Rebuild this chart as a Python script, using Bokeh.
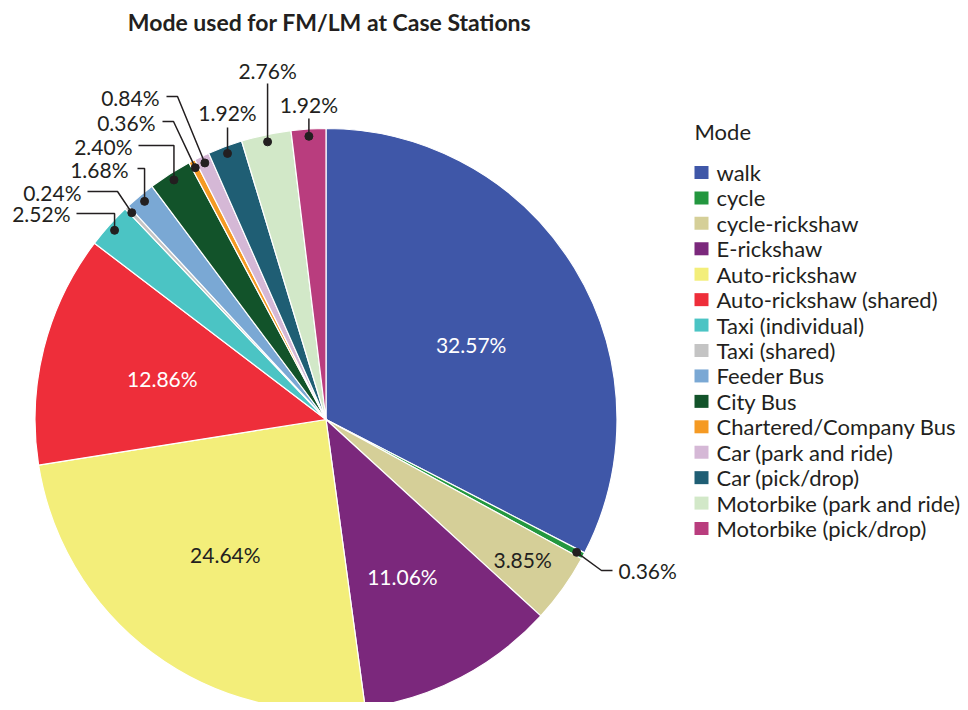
import math
from bokeh.plotting import figure
from bokeh.models import Range1d, ColumnDataSource
from bokeh.core.properties import value
from bokeh.embed import file_html
from bokeh.resources import INLINE

# ---------------- data ----------------
modes = ["walk", "cycle", "cycle-rickshaw", "E-rickshaw", "Auto-rickshaw",
         "Auto-rickshaw (shared)", "Taxi (individual)", "Taxi (shared)",
         "Feeder Bus", "City Bus", "Chartered/Company Bus", "Car (park and ride)",
         "Car (pick/drop)", "Motorbike (park and ride)", "Motorbike (pick/drop)"]
shares = [32.57, 0.36, 3.85, 11.06, 24.64, 12.86, 2.52, 0.24, 1.68, 2.40,
          0.36, 0.84, 1.92, 2.76, 1.92]
colors = ["#3F57A8", "#23973F", "#D5CF98", "#7B287C", "#F3EE7A", "#EE2E3A",
          "#4BC4C4", "#C4C4C4", "#7AA8D4", "#12532A", "#F59A23", "#D5B8D6",
          "#1F5E74", "#D2E8C8", "#B93D7E"]
title_text = "Mode used for FM/LM at Case Stations"
legend_title = "Mode"

# ---------------- layout (pixel coordinates of the 968x710 page) ----------------
FONT = "Lato"
CX, CY, R = 325.5, 419.0, 291.0
# inside labels: radius fraction, pixel nudge, text colour
inside = {
    "walk": (0.56, (6, 10), "white"),
    "cycle-rickshaw": (0.83, (0, 0), "#231F20"),
    "E-rickshaw": (0.61, (-6, 0), "white"),
    "Auto-rickshaw": (0.58, (0, 0), "#231F20"),
    "Auto-rickshaw (shared)": (0.58, (0, 0), "white"),
}
# callouts: elbow (x or None -> same as dot), line end x (None -> vertical), text anchor, align
callouts = {
    "cycle": ((601, 570), 612, (618, 570), "left"),
    "Taxi (individual)": ((None, 213), 76, (70, 213), "right"),
    "Taxi (shared)": ((117, 191), 87, (81, 192), "right"),
    "Feeder Bus": ((None, 168), 137, (128, 169), "right"),
    "City Bus": ((None, 145), 138, (132, 146), "right"),
    "Chartered/Company Bus": ((173, 121), 162, (155, 122), "right"),
    "Car (park and ride)": ((177, 96), 166, (159, 97), "right"),
    "Car (pick/drop)": ((None, 127), None, (None, 112), "center"),
    "Motorbike (park and ride)": ((None, 83), None, (None, 70), "center"),
    "Motorbike (pick/drop)": ((None, 118), None, (None, 104), "center"),
}

W, H = 960, 702
p = figure(width=W, height=H, output_backend="svg", toolbar_location=None,
           x_range=Range1d(0, W), y_range=Range1d(-H, 0),
           min_border=0, outline_line_color=None)
p.axis.visible = False
p.grid.visible = False
p.background_fill_color = "white"
p.border_fill_color = "white"

def Y(img_y):
    return -img_y

total = sum(shares)
starts, ends, mids = [], [], []
cum = 0.0
for s in shares:
    a0 = math.pi / 2 - 2 * math.pi * cum / total
    cum += s
    a1 = math.pi / 2 - 2 * math.pi * cum / total
    starts.append(a0)
    ends.append(a1)
    mids.append((a0 + a1) / 2)

src = ColumnDataSource(dict(start=starts, end=ends, color=colors, mode=modes))
p.wedge(x=CX, y=Y(CY), radius=R, start_angle="start", end_angle="end",
        direction="clock", fill_color="color", line_color="white",
        line_width=1.2, source=src)

def fmt(v):
    return f"{v:.2f}%"

# inside labels
for m, s, a in zip(modes, shares, mids):
    if m in inside:
        frac, (dx, dy), col = inside[m]
        x = CX + frac * R * math.cos(a) + dx
        y = Y(CY) + frac * R * math.sin(a) - dy
        p.text(x=[x], y=[y], text=[fmt(s)], text_align="center",
               text_baseline="middle", text_font=value(FONT),
               text_font_size="21px", text_color=col)

# callouts
dot_x, dot_y = [], []
for m, s, a in zip(modes, shares, mids):
    if m not in callouts:
        continue
    (ex, ey), endx, (tx, ty), align = callouts[m]
    dx_ = CX + 0.975 * R * math.cos(a)
    dy_ = Y(CY) + 0.975 * R * math.sin(a)
    dot_x.append(dx_)
    dot_y.append(dy_)
    ex = dx_ if ex is None else ex
    xs = [dx_, ex]
    ys = [dy_, Y(ey)]
    if endx is not None:
        xs.append(endx)
        ys.append(Y(ey))
    p.line(xs, ys, line_color="#231F20", line_width=1.5)
    tx = ex if tx is None else tx
    p.text(x=[tx], y=[Y(ty)], text=[fmt(s)], text_align=align,
           text_baseline="middle", text_font=value(FONT),
           text_font_size="21px", text_color="#231F20")
p.scatter(dot_x, dot_y, size=8, color="#231F20")

# title
p.text(x=[329], y=[Y(21)], text=[title_text], text_align="center",
       text_baseline="middle", text_font=value(FONT), text_font_style="bold",
       text_font_size="23px", text_color="#231F20")

# legend
LX, LY0, LDY, SQ = 694, 172, 25.43, 14
p.text(x=[LX], y=[Y(131)], text=[legend_title], text_align="left",
       text_baseline="middle", text_font=value(FONT), text_font_size="22px",
       text_color="#231F20")
lx = [LX + SQ / 2] * len(modes)
ly = [Y(LY0 + i * LDY) for i in range(len(modes))]
p.rect(x=lx, y=ly, width=SQ, height=SQ - 1, fill_color=colors, line_color=None)
p.text(x=[LX + 22] * len(modes), y=ly, text=modes, text_align="left",
       text_baseline="middle", text_font=value(FONT), text_font_size="22px",
       text_color="#231F20")

open("out.html", "w").write(file_html(p, INLINE))
